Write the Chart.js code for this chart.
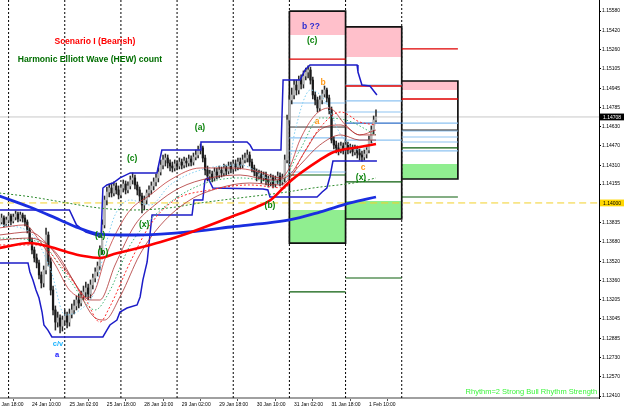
<!DOCTYPE html>
<html><head><meta charset="utf-8">
<script src="https://cdn.jsdelivr.net/npm/chart.js@4.4.1/dist/chart.umd.min.js"></script>
<style>html,body{margin:0;padding:0;background:#fff;overflow:hidden}canvas{display:block}</style>
</head><body>
<canvas id="c" width="625" height="411" style="width:625px;height:411px"></canvas>
<script>
// ---------- DATA (hourly bars, index 0 = 24 Jan 00:00) ----------
const firstBar = -4;
const opens = [
1.13819,1.13843,1.13876,1.13827,1.13860,1.13893,1.13851,1.13884,1.13909,1.13868,1.13901,1.13876,
1.13843,1.13777,1.13687,1.13613,1.13547,1.13506,1.13407,1.13341,1.13448,1.13736,1.13514,1.13283,
1.13119,1.13019,1.13053,1.12986,1.13036,1.13069,1.13019,1.13086,1.13119,1.13152,1.13201,1.13176,
1.13234,1.13267,1.13300,1.13250,1.13325,1.13382,1.13432,1.13481,1.13613,1.13819,1.14024,1.14090,
1.14123,1.14082,1.14140,1.14107,1.14066,1.14123,1.14156,1.14107,1.14140,1.14189,1.14206,1.14148,
1.14107,1.14057,1.13983,1.14024,1.14082,1.14107,1.14140,1.14173,1.14206,1.14255,1.14312,1.14354,
1.14370,1.14329,1.14304,1.14288,1.14321,1.14304,1.14337,1.14312,1.14345,1.14329,1.14362,1.14337,
1.14378,1.14395,1.14436,1.14453,1.14370,1.14271,1.14222,1.14238,1.14206,1.14255,1.14230,1.14271,
1.14247,1.14288,1.14263,1.14304,1.14280,1.14321,1.14296,1.14337,1.14312,1.14354,1.14370,1.14395,
1.14337,1.14288,1.14255,1.14222,1.14238,1.14206,1.14230,1.14189,1.14173,1.14206,1.14156,1.14189,
1.14222,1.14173,1.14206,1.14354,1.14683,1.14848,1.14889,1.14971,1.14930,1.15012,1.14979,1.15045,
1.15078,1.15095,1.15012,1.14889,1.14848,1.14782,1.14848,1.14897,1.14930,1.14864,1.14766,1.14518,
1.14477,1.14453,1.14436,1.14469,1.14444,1.14477,1.14436,1.14453,1.14420,1.14444,1.14411,1.14395,
1.14378,1.14403,1.14436,1.14518,1.14601,1.14683];
const highs = [
1.13868,1.13909,1.13893,1.13884,1.13917,1.13909,1.13909,1.13934,1.13925,1.13925,1.13917,1.13901,
1.13860,1.13794,1.13711,1.13637,1.13580,1.13530,1.13432,1.13481,1.13794,1.13761,1.13547,1.13316,
1.13152,1.13102,1.13078,1.13069,1.13119,1.13102,1.13127,1.13168,1.13201,1.13234,1.13250,1.13275,
1.13316,1.13349,1.13333,1.13366,1.13415,1.13465,1.13514,1.13646,1.13860,1.14057,1.14131,1.14156,
1.14164,1.14173,1.14164,1.14140,1.14148,1.14189,1.14181,1.14173,1.14222,1.14247,1.14230,1.14173,
1.14131,1.14082,1.14057,1.14107,1.14140,1.14173,1.14206,1.14238,1.14288,1.14354,1.14395,1.14403,
1.14395,1.14354,1.14337,1.14354,1.14345,1.14370,1.14362,1.14378,1.14370,1.14395,1.14387,1.14411,
1.14436,1.14469,1.14485,1.14469,1.14395,1.14304,1.14271,1.14263,1.14288,1.14288,1.14304,1.14296,
1.14321,1.14312,1.14337,1.14337,1.14354,1.14354,1.14370,1.14370,1.14395,1.14411,1.14436,1.14420,
1.14362,1.14312,1.14280,1.14271,1.14263,1.14255,1.14255,1.14222,1.14238,1.14230,1.14222,1.14255,
1.14247,1.14238,1.14395,1.14724,1.14889,1.14946,1.15012,1.15012,1.15045,1.15054,1.15087,1.15111,
1.15128,1.15119,1.15037,1.14914,1.14872,1.14881,1.14930,1.14963,1.14946,1.14889,1.14790,1.14543,
1.14510,1.14494,1.14502,1.14494,1.14510,1.14502,1.14485,1.14477,1.14477,1.14469,1.14444,1.14428,
1.14436,1.14469,1.14551,1.14634,1.14716,1.14766];
const lows = [
1.13794,1.13827,1.13802,1.13810,1.13835,1.13819,1.13835,1.13860,1.13843,1.13851,1.13843,1.13810,
1.13753,1.13662,1.13580,1.13514,1.13465,1.13374,1.13300,1.13308,1.13415,1.13481,1.13242,1.13078,
1.12953,1.12978,1.12929,1.12945,1.12995,1.12970,1.12986,1.13053,1.13086,1.13119,1.13135,1.13152,
1.13201,1.13226,1.13201,1.13217,1.13292,1.13349,1.13399,1.13448,1.13580,1.13794,1.13983,1.14049,
1.14049,1.14057,1.14074,1.14033,1.14041,1.14090,1.14074,1.14082,1.14115,1.14156,1.14115,1.14066,
1.14016,1.13917,1.13942,1.13991,1.14049,1.14074,1.14107,1.14140,1.14173,1.14230,1.14280,1.14304,
1.14288,1.14263,1.14255,1.14263,1.14271,1.14280,1.14280,1.14288,1.14296,1.14304,1.14304,1.14312,
1.14354,1.14370,1.14403,1.14337,1.14230,1.14181,1.14189,1.14173,1.14181,1.14197,1.14206,1.14214,
1.14222,1.14230,1.14238,1.14247,1.14255,1.14263,1.14271,1.14280,1.14288,1.14329,1.14337,1.14304,
1.14255,1.14222,1.14181,1.14197,1.14164,1.14181,1.14148,1.14131,1.14140,1.14123,1.14131,1.14156,
1.14140,1.14148,1.14173,1.14329,1.14650,1.14815,1.14856,1.14889,1.14897,1.14938,1.14946,1.15012,
1.15029,1.14979,1.14856,1.14807,1.14749,1.14757,1.14815,1.14872,1.14831,1.14732,1.14494,1.14444,
1.14411,1.14395,1.14411,1.14403,1.14428,1.14403,1.14411,1.14387,1.14395,1.14370,1.14354,1.14345,
1.14354,1.14370,1.14411,1.14494,1.14568,1.14667];
const closes = [
1.13843,1.13876,1.13827,1.13860,1.13893,1.13851,1.13884,1.13909,1.13868,1.13901,1.13876,1.13843,
1.13777,1.13687,1.13613,1.13547,1.13506,1.13407,1.13341,1.13448,1.13736,1.13514,1.13283,1.13119,
1.13019,1.13053,1.12986,1.13036,1.13069,1.13019,1.13086,1.13119,1.13152,1.13201,1.13176,1.13234,
1.13267,1.13300,1.13250,1.13325,1.13382,1.13432,1.13481,1.13613,1.13819,1.14024,1.14090,1.14123,
1.14082,1.14140,1.14107,1.14066,1.14123,1.14156,1.14107,1.14140,1.14189,1.14206,1.14148,1.14107,
1.14057,1.13983,1.14024,1.14082,1.14107,1.14140,1.14173,1.14206,1.14255,1.14312,1.14354,1.14370,
1.14329,1.14304,1.14288,1.14321,1.14304,1.14337,1.14312,1.14345,1.14329,1.14362,1.14337,1.14378,
1.14395,1.14436,1.14453,1.14370,1.14271,1.14222,1.14238,1.14206,1.14255,1.14230,1.14271,1.14247,
1.14288,1.14263,1.14304,1.14280,1.14321,1.14296,1.14337,1.14312,1.14354,1.14370,1.14395,1.14337,
1.14288,1.14255,1.14222,1.14238,1.14206,1.14230,1.14189,1.14173,1.14206,1.14156,1.14189,1.14222,
1.14173,1.14206,1.14354,1.14683,1.14848,1.14889,1.14971,1.14930,1.15012,1.14979,1.15045,1.15078,
1.15095,1.15012,1.14889,1.14848,1.14782,1.14848,1.14897,1.14930,1.14864,1.14766,1.14518,1.14477,
1.14453,1.14436,1.14469,1.14444,1.14477,1.14436,1.14453,1.14420,1.14444,1.14411,1.14395,1.14378,
1.14403,1.14436,1.14518,1.14601,1.14683,1.14708];

// indicator lines: [bar, price]
const maRedPts = [[-4,1.13629],[9,1.13670],[18,1.13637],[25,1.13596],[32,1.13563],[39,1.13547],[45,1.13580],[52,1.13613],[65,1.13679],[77,1.13753],[95,1.13884],[106,1.13967],[112,1.14024],[120,1.14173],[133,1.14354],[139,1.14420],[150,1.14461],[157,1.14485]];
const maBluePts = [[-4,1.14057],[9,1.13967],[22,1.13860],[30,1.13794],[39,1.13744],[52,1.13736],[65,1.13744],[77,1.13761],[95,1.13802],[107,1.13827],[120,1.13860],[133,1.13925],[146,1.14000],[157,1.14049]];
const ribbon1 = [[-4,1.13794],[7,1.13819],[13,1.13695],[20,1.13489],[26,1.13283],[33,1.13217],[37,1.13283],[41,1.13530],[45.5,1.13736],[52,1.13942],[60.5,1.14066],[69,1.14189],[82,1.14288],[95,1.14288],[107.4,1.14255],[116,1.14206],[120,1.14288],[124.5,1.14518],[131,1.14724],[137,1.14782],[144,1.14642],[150,1.14560],[157,1.14601]];
const ribbon2 = [[-4,1.13736],[9,1.13761],[18,1.13629],[26,1.13407],[35,1.13201],[39,1.13201],[45.5,1.13489],[54,1.13819],[62.5,1.13983],[73,1.14123],[86,1.14206],[99,1.14230],[112,1.14189],[120,1.14230],[127,1.14436],[133,1.14601],[142,1.14642],[150,1.14560],[157,1.14560]];
const ribbon3 = [[-4,1.13695],[9,1.13711],[20,1.13596],[28,1.13349],[37,1.13053],[41,1.13036],[48,1.13242],[56,1.13572],[65,1.13819],[77.5,1.14024],[90,1.14123],[103,1.14164],[116,1.14148],[124.5,1.14312],[133,1.14477],[142,1.14560],[150,1.14518],[157,1.14518]];
const ribbonDot = [[-4,1.13654],[13,1.13654],[22,1.13489],[33,1.13201],[39,1.13019],[43,1.13135],[52,1.13514],[60.5,1.13819],[71,1.14024],[86,1.14107],[103,1.14148],[118,1.14123],[124.5,1.14354],[133,1.14617],[142,1.14749],[150,1.14667],[157,1.14642]];
const greenSlow = [[-4,1.14082],[10,1.14049],[25,1.14000],[39,1.13958],[53,1.13942],[68,1.13958],[82,1.14000],[102,1.14049],[116,1.14082],[130,1.14123],[150,1.14173],[157,1.14206]];
const greenFast = [[-4,1.13711],[13,1.13679],[26,1.13366],[37,1.13119],[43,1.13267],[52,1.13654],[65,1.13942],[82,1.14148],[99,1.14206],[116,1.14173],[124.5,1.14436],[133,1.14700],[144,1.14683],[157,1.14560]];
const cyanFast = [[-4,1.13819],[9,1.13761],[18,1.13448],[24,1.13078],[30.5,1.13119],[37,1.13283],[41,1.13613],[45.5,1.13901],[52,1.14024],[60.5,1.13983],[69,1.14148],[82,1.14271],[99,1.14312],[112,1.14189],[118,1.14148],[122.5,1.14601],[129,1.14930],[135,1.14848],[142,1.14560],[150,1.14436],[157,1.14518]];
const donchianUpper = [[-4,1.13942],[26,1.13942],[29,1.13819],[33,1.13761],[37,1.13736],[39.5,1.13720],[40.3,1.14123],[42,1.14148],[44.6,1.14164],[47.6,1.14206],[52,1.14247],[63.4,1.14247],[65.5,1.14436],[81.8,1.14436],[82.2,1.14502],[101.9,1.14502],[103.2,1.14477],[104.4,1.14436],[116.4,1.14436],[117.3,1.15012],[124.5,1.15012],[126.7,1.15095],[128.8,1.15136],[148.9,1.15136],[149.3,1.15078],[151,1.14971],[154.4,1.14963],[157.4,1.14889]];
const donchianLower = [[-4,1.13506],[8.3,1.13506],[9.1,1.13432],[10.4,1.13366],[11.7,1.13283],[13,1.13217],[14.3,1.13102],[15.1,1.12995],[16.8,1.12953],[18.5,1.12897],[40.3,1.12897],[42,1.12953],[43.3,1.12995],[46.3,1.13036],[47.6,1.13102],[50.6,1.13135],[54.9,1.13160],[56.2,1.13226],[57.4,1.13366],[59.2,1.13514],[60.4,1.13736],[61.3,1.13901],[78.4,1.13901],[79.2,1.14024],[83,1.14024],[83.9,1.14189],[85.2,1.14206],[87.3,1.14123],[108.7,1.14115],[110.8,1.14107],[111.7,1.14049],[131.8,1.14049],[134,1.14090],[136,1.14123],[137.3,1.14214],[138.6,1.14345],[157.4,1.14345]];

// daily boxes
const boxStart = [120,144,168];
const boxEnd = [144,168,192];
const boxTop = [1.15580,1.15449,1.15004];
const boxBottom = [1.13670,1.13868,1.14197];
const pinkBottom = [1.15383,1.15202,1.14930];
const greenTop = [1.13942,1.14016,1.14321];

// level segments: [fromBar, toBar, price]
const redLevels = [[120,144,1.15185],[144,168,1.14963],[168,192,1.15268],[168,192,1.14856]];
const greenLevels = [[120,144,1.14230],[120,144,1.13267],[144,168,1.14173],[144,168,1.13382],[168,192,1.14453],[168,192,1.14049]];
const blueLevels = [[120,144,1.14823],[120,144,1.14535],[120,144,1.14428],[120,144,1.14255],[144,168,1.14971],[144,168,1.14840],[144,168,1.14749],[144,168,1.14518],[168,192,1.14658],[168,192,1.14593],[168,192,1.14543],[168,192,1.14502],[168,192,1.14428]];
const midBlueLevels = [[144,168,1.14658]];
const blackLevels = [[120,144,1.14625],[168,192,1.14601]];

const daySeparators = [0,24,48,72,96,120,144,168];
const bidPrice = 1.14708;
const roundLevel = 1.14000;

const xTickBars = [-6,10,26,42,58,74,90,106,122,138,154];
const xTickLabels = ['23 Jan 18:00','24 Jan 10:00','25 Jan 02:00','25 Jan 18:00','28 Jan 10:00','29 Jan 02:00','29 Jan 18:00','30 Jan 10:00','31 Jan 02:00','31 Jan 18:00','1 Feb 10:00'];
const yTickValues = [1.15580,1.15420,1.15260,1.15105,1.14945,1.14785,1.14630,1.14470,1.14310,1.14155,1.13835,1.13680,1.13520,1.13360,1.13205,1.13045,1.12885,1.12730,1.12570,1.12410];

const chartTexts = [
  {bar:36.9, price:1.15328, text:'Scenario I (Bearish)', kind:'title'},
  {bar:34.8, price:1.15183, text:'Harmonic Elliott Wave (HEW) count', kind:'subtitle'},
  {bar:81.8, price:1.14617, text:'(a)', kind:'wave'},
  {bar:52.8, price:1.14362, text:'(c)', kind:'wave'},
  {bar:57.9, price:1.13819, text:'(x)', kind:'wave'},
  {bar:39.1, price:1.13728, text:'(a)', kind:'wave'},
  {bar:40.3, price:1.13588, text:'(b)', kind:'wave'},
  {bar:21.1, price:1.12839, text:'c/v', kind:'cv'},
  {bar:20.7, price:1.12748, text:'a', kind:'blueA'},
  {bar:111.7, price:1.13975, text:'(b)', kind:'wave'},
  {bar:129.2, price:1.15449, text:'b ??', kind:'boxb'},
  {bar:129.7, price:1.15333, text:'(c)', kind:'wave'},
  {bar:134.4, price:1.14988, text:'b', kind:'orange'},
  {bar:131.8, price:1.14667, text:'a', kind:'orange'},
  {bar:151.5, price:1.14288, text:'c', kind:'orange'},
  {bar:150.6, price:1.14206, text:'(x)', kind:'wave'},
  {bar:251.5, price:1.12444, text:'Rhythm=2 Strong Bull Rhythm Strength', kind:'rhythm'}
];

// ---------- STYLES ----------
const FONT = '"Liberation Sans", Arial, sans-serif';
const textStyles = {
  title:   {font:'bold 8.6px '+FONT, color:'#ff0000'},
  subtitle:{font:'bold 8.6px '+FONT, color:'#006e00'},
  wave:    {font:'bold 8.5px '+FONT, color:'#0a820a'},
  boxb:    {font:'bold 8.5px '+FONT, color:'#2b2bd0'},
  orange:  {font:'bold 8.5px '+FONT, color:'#ff9a1a'},
  cv:      {font:'bold 7.5px '+FONT, color:'#1eb4ff'},
  blueA:   {font:'bold 7.5px '+FONT, color:'#1a1aff'},
  rhythm:  {font:'7.5px '+FONT, color:'#3cf53c', align:'right'}
};
const BULL = '#b4b4b4', BEAR = '#1a1a1a';
Chart.defaults.font.family = FONT;

// ---------- BUILD ----------
const bars = opens.map((_, i) => firstBar + i);
const toPts = arr => arr.map(p => ({x:p[0], y:p[1]}));
function segPts(list){ const out=[]; list.forEach(s=>{out.push({x:s[0],y:s[2]},{x:s[1],y:s[2]},{x:s[1],y:null});}); return out; }
function line(data, color, width, dash, order, extra){
  return Object.assign({type:'line', data, borderColor:color, borderWidth:width, borderDash:dash||[], pointRadius:0, fill:false, order, spanGaps:false, tension:0}, extra||{});
}
const yMin = 1.12394, yMax = 1.15671, xMin = -3.67, xMax = 252.3;

const datasets = [];
boxStart.forEach((s,i)=>{
  datasets.push(line([{x:s,y:boxTop[i]},{x:boxEnd[i],y:boxTop[i]}], 'rgba(0,0,0,0)', 0, null, 30, {fill:{value:pinkBottom[i]}, backgroundColor:'#ffc0cb'}));
  datasets.push(line([{x:s,y:greenTop[i]},{x:boxEnd[i],y:greenTop[i]}], 'rgba(0,0,0,0)', 0, null, 30, {fill:{value:boxBottom[i]}, backgroundColor:'#90ee90'}));
});
const sepPts=[]; daySeparators.forEach(b=>{sepPts.push({x:b,y:yMax},{x:b,y:yMin},{x:b,y:null});});
datasets.push(line(sepPts, '#000', 1, [2,2], 25));
const boxPts=[]; boxStart.forEach((s,i)=>{const e=boxEnd[i],t=boxTop[i],b=boxBottom[i]; boxPts.push({x:s,y:t},{x:e,y:t},{x:e,y:b},{x:s,y:b},{x:s,y:t},{x:s,y:null});});
datasets.push(line(boxPts, '#111', 1.7, null, 20));
datasets.push(line([{x:-10,y:bidPrice},{x:300,y:bidPrice}], '#c8c8c8', 1, null, 24));
datasets.push(line([{x:-10,y:roundLevel},{x:300,y:roundLevel}], '#f2d02a', 1, [7,4], 24));
datasets.push(line(segPts(blueLevels), '#8ec4f2', 1.2, null, 19));
datasets.push(line(segPts(midBlueLevels), '#2f6fc8', 1.2, null, 18));
datasets.push(line(segPts(blackLevels), '#333', 1, null, 18));
datasets.push(line(segPts(redLevels), '#e00000', 1.3, null, 18));
datasets.push(line(segPts(greenLevels), '#0b5e0b', 1.2, null, 18));
// candles
datasets.push({type:'bar', data:bars.map((b,i)=>({x:b,y:[lows[i],highs[i]]})), backgroundColor:'#2a2a2a', grouped:false, barPercentage:1, categoryPercentage:1, maxBarThickness:0.9, order:12});
datasets.push({type:'bar', data:bars.map((b,i)=>({x:b,y:[opens[i],closes[i]]})), backgroundColor:bars.map((b,i)=>closes[i]>=opens[i]?BULL:BEAR), grouped:false, barPercentage:1, categoryPercentage:1, maxBarThickness:1.6, order:11});
// indicators
const smooth = {cubicInterpolationMode:'monotone'};
datasets.push(line(toPts(donchianLower), '#1c1cc8', 1.5, null, 8));
datasets.push(line(toPts(donchianUpper), '#1c1cc8', 1.5, null, 8));
datasets.push(line(toPts(greenSlow), '#2e8b2e', 1, [2,2], 7, smooth));
datasets.push(line(toPts(cyanFast), '#7fcdf0', 1, [1.5,2], 6, smooth));
datasets.push(line(toPts(greenFast), '#3cb371', 1, [1.5,2], 6, smooth));
datasets.push(line(toPts(ribbonDot), '#ff2a2a', 1, [2,2], 5, smooth));
datasets.push(line(toPts(ribbon3), 'rgba(170,40,40,0.85)', 0.9, null, 5, smooth));
datasets.push(line(toPts(ribbon2), 'rgba(170,40,40,0.85)', 0.9, null, 5, smooth));
datasets.push(line(toPts(ribbon1), 'rgba(190,50,50,0.85)', 0.9, null, 5, smooth));
datasets.push(line(toPts(maBluePts), '#1a2ee0', 2.8, null, 2, smooth));
datasets.push(line(toPts(maRedPts), '#ff0000', 2.6, null, 1, smooth));

const textPlugin = {
  id:'texts',
  afterDatasetsDraw(chart){
    const {ctx, scales:{x, y}} = chart;
    ctx.save();
    chartTexts.forEach(a=>{
      const st = textStyles[a.kind];
      ctx.font = st.font; ctx.fillStyle = st.color;
      ctx.textAlign = st.align || 'center'; ctx.textBaseline = 'middle';
      ctx.fillText(a.text, x.getPixelForValue(a.bar), y.getPixelForValue(a.price));
    });
    [{p:bidPrice,bg:'#000',fg:'#fff'},{p:roundLevel,bg:'#ffd700',fg:'#000'}].forEach(t=>{
      const py = y.getPixelForValue(t.p);
      ctx.fillStyle = t.bg; ctx.fillRect(y.left+1, py-3.4, 24, 6.8);
      ctx.fillStyle = t.fg; ctx.font = '5px '+FONT; ctx.textAlign='left'; ctx.textBaseline='middle';
      ctx.fillText(t.p.toFixed(5), y.left+4, py+0.3);
    });
    ctx.restore();
  }
};

new Chart(document.getElementById('c').getContext('2d'), {
  type:'line',
  data:{datasets},
  options:{
    responsive:false, animation:false, devicePixelRatio:1,
    layout:{padding:0},
    plugins:{legend:{display:false}, tooltip:{enabled:false}},
    scales:{
      x:{type:'linear', min:xMin, max:xMax, offset:false,
         afterBuildTicks:s=>{s.ticks = xTickBars.map(v=>({value:v}));},
         afterFit:s=>{s.height=13; s.paddingLeft=0; s.paddingRight=0;},
         ticks:{autoSkip:false, maxRotation:0, minRotation:0, align:'start', padding:1, color:'#000', font:{size:5}, callback:(v,i)=>xTickLabels[i]},
         grid:{drawOnChartArea:false, drawTicks:true, tickLength:3, color:'#555'},
         border:{display:true, color:'#a0a0a0', width:2}},
      y:{type:'linear', position:'right', min:yMin, max:yMax,
         afterBuildTicks:s=>{s.ticks = yTickValues.map(v=>({value:v}));},
         afterFit:s=>{s.width=26; s.paddingTop=0; s.paddingBottom=0;},
         ticks:{autoSkip:false, padding:1, color:'#000', font:{size:5}, callback:v=>Number(v).toFixed(5)},
         grid:{drawOnChartArea:false, drawTicks:true, tickLength:2, color:'#000'},
         border:{display:true, color:'#000', width:1}}
    }
  },
  plugins:[textPlugin]
});
</script>
</body></html>
